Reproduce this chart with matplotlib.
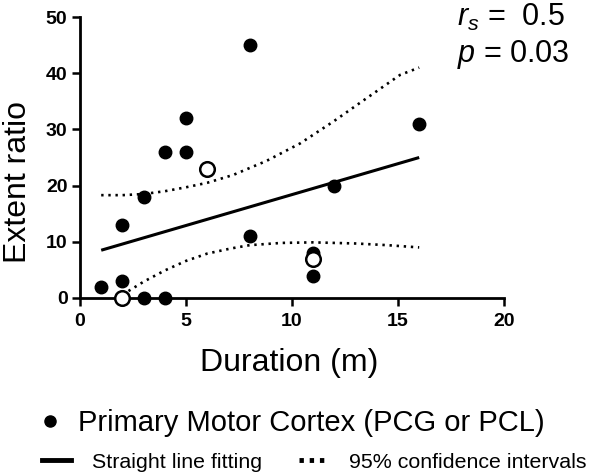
import matplotlib
matplotlib.use("Agg")
import matplotlib.pyplot as plt
from matplotlib.lines import Line2D

plt.rcParams['font.family'] = ['Liberation Sans', 'DejaVu Sans']
plt.rcParams['mathtext.fontset'] = 'custom'
plt.rcParams['mathtext.rm'] = 'Liberation Sans'
plt.rcParams['mathtext.it'] = 'Liberation Sans:italic'

# ---- data ----
filled_x = [1, 2, 2, 2, 3, 3, 4, 4, 5, 5, 8, 8, 11, 11, 12, 16]
filled_y = [2, 0, 3, 13, 18, 0, 0, 26, 26, 32, 45, 11, 8, 4, 20, 31]
open_x = [2, 6, 11]
open_y = [0, 23, 7]

fit_x = [1, 16]
fit_y = [8.5, 25.0]

upper_x = [1, 2, 3, 4, 5, 6, 7.23, 8.8, 10.38, 11.95, 13.5, 15.1, 16]
upper_y = [18.3, 18.3, 18.5, 19.0, 19.7, 20.5, 21.9, 24.4, 27.5, 31.4, 35.5, 39.7, 41.0]
lower_x = [1.7, 2.1, 3, 4, 5, 6, 7.1, 8, 9.5, 11, 13, 14.5, 16]
lower_y = [0.0, 0.8, 2.9, 4.9, 6.6, 7.9, 8.8, 9.4, 9.8, 9.9, 9.7, 9.4, 9.0]

x_ticks = [0, 5, 10, 15, 20]
y_ticks = [0, 10, 20, 30, 40, 50]

W, H = 594, 476
fig = plt.figure(figsize=(W / 100, H / 100), dpi=100)
ax = fig.add_axes([80 / W, 1 - 298 / H, 424 / W, 281 / H])

ax.plot(fit_x, fit_y, color='black', lw=2.2, solid_capstyle='butt')
dot_style = dict(color='black', lw=1.9, linestyle=(0, (0.9, 1.8)), dash_capstyle='butt')
ax.plot(upper_x, upper_y, **dot_style)
ax.plot(lower_x, lower_y, **dot_style)

ax.plot(filled_x, filled_y, 'o', color='black', ms=9, clip_on=False, zorder=4)
ax.plot(open_x, open_y, 'o', mfc='white', mec='black', mew=1.8, ms=10.5, clip_on=False, zorder=5)

ax.set_xlim(0, 20)
ax.set_ylim(0, 50)
ax.set_xticks(x_ticks)
ax.set_yticks(y_ticks)
for s in ['top', 'right']:
    ax.spines[s].set_visible(False)
for s in ['left', 'bottom']:
    ax.spines[s].set_linewidth(2)
ax.tick_params(direction='out', length=6, width=1.8, labelsize=14, pad=3)
ax.tick_params(axis='x', pad=5)
for lab in ax.get_xticklabels() + ax.get_yticklabels():
    lab.set_fontweight('bold')

fig.text(289 / W, 1 - 371 / H, 'Duration (m)', fontsize=23, ha='center', va='baseline')
fig.text(3 / W, 1 - 182 / H, 'Extent ratio', fontsize=23, rotation=90, ha='left', va='center')

fig.text(457 / W, 1 - 26 / H, r'$r_s$ =  0.5', fontsize=22, ha='left', va='baseline')
fig.text(457 / W, 1 - 62 / H, r'$p$ = 0.03', fontsize=22, ha='left', va='baseline')

# legends
h1 = [Line2D([], [], marker='o', color='black', ls='none', ms=8)]
leg1 = fig.legend(h1, ['Primary Motor Cortex (PCG or PCL)'], loc='center left',
                  bbox_to_anchor=(40 / W, 1 - 423 / H), frameon=False, fontsize=21,
                  handlelength=0.7, handletextpad=0.6, borderpad=0, borderaxespad=0)
h2 = [Line2D([], [], color='black', lw=3.5),
      Line2D([], [], color='black', lw=3.5, linestyle=(0, (0.9, 1.2)))]
leg2 = fig.legend(h2, ['Straight line fitting', '95% confidence intervals'], loc='center left',
                  bbox_to_anchor=(42 / W, 1 - 462 / H), frameon=False, fontsize=15.4, ncol=2,
                  handlelength=1.35, handletextpad=1.0, columnspacing=1.7,
                  borderpad=0, borderaxespad=0)

fig.savefig('out.png', dpi=100)
